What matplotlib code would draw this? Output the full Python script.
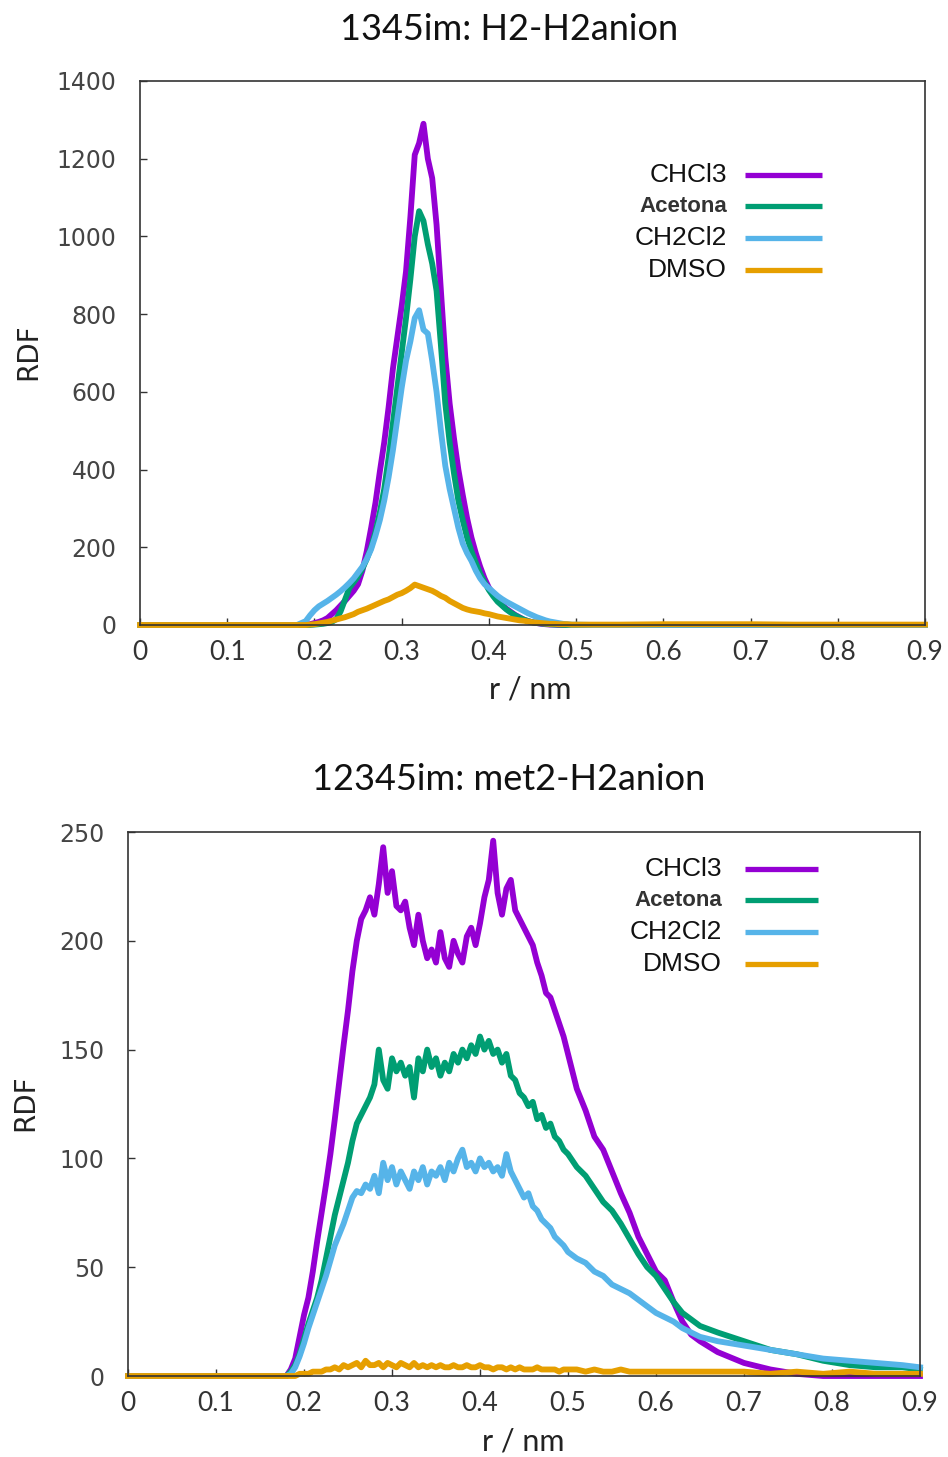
import matplotlib.pyplot as plt
import numpy as np

solvents = ["CHCl3", "Acetona", "CH2Cl2", "DMSO"]
colors = ["#9400D3", "#009E73", "#56B4E9", "#E69F00"]

titles = ["1345im: H2-H2anion", "12345im: met2-H2anion"]
x_ticks = [0, 0.1, 0.2, 0.3, 0.4, 0.5, 0.6, 0.7, 0.8, 0.9]
x_tick_labels = ["0", "0.1", "0.2", "0.3", "0.4", "0.5", "0.6", "0.7", "0.8", "0.9"]
y_ticks_top = [0, 200, 400, 600, 800, 1000, 1200, 1400]
y_ticks_bot = [0, 50, 100, 150, 200, 250]

# ---- top panel: H2-H2anion ----
r_top = np.concatenate([
    [0.0, 0.05, 0.10, 0.15, 0.18],
    np.round(np.arange(0.19, 0.5001, 0.005), 3),
    [0.52, 0.55, 0.60, 0.65, 0.70, 0.75, 0.80, 0.85, 0.90],
])

top_chcl3 = [0, 0, 0, 0, 0,
             1, 2, 5, 8, 12, 18, 28, 38, 50, 62,
             75, 88, 105, 140, 190, 250, 315, 395, 470, 560,
             660, 740, 820, 910, 1050, 1210, 1240, 1290, 1200, 1150,
             1030, 860, 690, 570, 480, 400, 335, 275, 225, 185,
             150, 120, 96, 80, 64, 52, 42, 34, 26, 20,
             14, 10, 7, 5, 3, 2, 1, 1, 0, 0,
             0, 0, 0,
             0, 0, 0, 0, 0, 0, 0, 0, 0]
top_acetona = [0, 0, 0, 0, 0,
               0, 0, 1, 2, 3, 5, 8, 15, 35, 65,
               95, 110, 125, 145, 170, 200, 240, 290, 350, 430,
               520, 610, 700, 790, 890, 1000, 1065, 1040, 980, 930,
               860, 720, 570, 470, 390, 320, 270, 225, 190, 160,
               132, 110, 90, 74, 60, 50, 40, 32, 25, 19,
               14, 10, 7, 5, 4, 3, 2, 1, 1, 0,
               0, 0, 0,
               0, 0, 0, 0, 0, 0, 0, 0, 0]
top_ch2cl2 = [0, 0, 0, 0, 0,
              10, 25, 38, 48, 55, 62, 70, 78, 87, 97,
              108, 120, 135, 150, 170, 195, 230, 270, 320, 380,
              450, 530, 610, 680, 730, 790, 810, 760, 750, 680,
              600, 500, 410, 350, 300, 250, 210, 185, 165, 140,
              120, 105, 95, 85, 75, 67, 60, 54, 48, 42,
              36, 30, 25, 20, 16, 12, 9, 7, 5, 3,
              2, 1, 1,
              0, 0, 0, 0, 0, 0, 0, 0, 0]
top_dmso = [0, 0, 0, 0, 0,
            0, 1, 2, 4, 6, 8, 11, 14, 17, 20,
            24, 28, 34, 38, 42, 47, 52, 57, 62, 66,
            72, 78, 82, 88, 95, 104, 100, 96, 92, 88,
            82, 75, 70, 62, 56, 50, 44, 40, 37, 35,
            33, 30, 28, 25, 22, 20, 18, 16, 14, 12,
            11, 9, 7, 6, 5, 4, 3, 3, 2, 2,
            2, 1, 1,
            1, 1, 2, 2, 2, 1, 1, 1, 1]

# ---- bottom panel: met2-H2anion ----
r_bot = np.concatenate([
    [0.0, 0.05, 0.10, 0.15, 0.175],
    np.round(np.arange(0.18, 0.5001, 0.005), 3),
    np.round(np.arange(0.51, 0.6501, 0.01), 2),
    [0.67, 0.70, 0.73, 0.76, 0.79, 0.82, 0.85, 0.88, 0.90],
])

bot_chcl3 = [0, 0, 0, 0, 0,
             0, 3, 8, 18, 28, 36, 48, 62, 75, 88,
             102, 118, 135, 152, 168, 186, 200, 210, 214, 220,
             212, 226, 243, 222, 232, 216, 214, 218, 206, 198,
             212, 200, 192, 196, 190, 204, 192, 188, 200, 194,
             190, 202, 206, 198, 208, 220, 228, 246, 222, 212,
             224, 228, 214, 210, 206, 202, 198, 190, 184, 176,
             174, 168, 162, 156, 148,
             132, 122, 110, 104, 94, 84, 75, 64, 56, 48, 44, 34, 25, 19, 16,
             11, 6, 3, 1, 0, 0, 0, 0, 0]
bot_acetona = [0, 0, 0, 0, 0,
               0, 2, 5, 10, 17, 24, 30, 36, 44, 54,
               64, 74, 82, 90, 98, 108, 116, 120, 124, 128,
               134, 150, 136, 132, 146, 140, 144, 138, 142, 128,
               146, 140, 150, 142, 146, 138, 144, 140, 148, 144,
               150, 146, 152, 148, 156, 150, 154, 148, 150, 144,
               148, 138, 136, 130, 128, 124, 126, 118, 120, 114,
               116, 110, 108, 104, 102,
               96, 92, 86, 80, 76, 70, 63, 56, 50, 46, 40, 34, 29, 26, 23,
               20, 16, 12, 10, 7, 5, 4, 4, 3]
bot_ch2cl2 = [0, 0, 0, 0, 0,
              0, 1, 4, 9, 15, 22, 28, 34, 40, 46,
              53, 60, 65, 70, 76, 82, 85, 84, 88, 86,
              92, 84, 98, 90, 96, 88, 94, 90, 86, 94,
              90, 96, 88, 94, 92, 96, 90, 98, 94, 100,
              104, 96, 98, 94, 100, 96, 98, 94, 96, 92,
              102, 94, 90, 86, 82, 84, 78, 76, 72, 70,
              68, 64, 62, 60, 57,
              54, 52, 48, 46, 42, 40, 38, 35, 32, 29, 27, 25, 22, 20, 18,
              16, 14, 12, 10, 8, 7, 6, 5, 4]
bot_dmso = [0, 0, 0, 0, 0,
            0, 0, 0, 1, 1, 1, 2, 2, 2, 3,
            3, 4, 3, 5, 4, 5, 6, 4, 7, 5,
            5, 6, 4, 6, 5, 4, 6, 5, 4, 6,
            4, 5, 4, 5, 4, 5, 4, 4, 5, 4,
            4, 5, 4, 4, 5, 4, 4, 3, 4, 4,
            3, 4, 3, 4, 3, 3, 3, 4, 3, 3,
            3, 3, 2, 3, 3,
            3, 2, 3, 2, 2, 3, 2, 2, 2, 2, 2, 2, 2, 2, 2,
            2, 2, 1, 2, 1, 2, 1, 1, 1]

narrow = ["Lato", "DejaVu Sans"]

W, H = 948, 1457
fig = plt.figure(figsize=(W / 100, H / 100), dpi=100)


def px(x, y):
    return x / W, 1 - y / H


panels = [
    dict(rect=(140, 81, 925, 625), r=r_top, series=[top_chcl3, top_acetona, top_ch2cl2, top_dmso],
         yt=y_ticks_top, ymax=1400, title_xy=(509, 30), xl_xy=(530, 690), yl_xy=(28, 352),
         leg_x=(0.748, 0.771, 0.869), leg_y=[0.827, 0.770, 0.711, 0.653]),
    dict(rect=(128, 832, 920, 1376), r=r_bot, series=[bot_chcl3, bot_acetona, bot_ch2cl2, bot_dmso],
         yt=y_ticks_bot, ymax=250, title_xy=(509, 780), xl_xy=(523, 1441), yl_xy=(25, 1103),
         leg_x=(0.750, 0.779, 0.871), leg_y=[0.932, 0.875, 0.816, 0.757]),
]

for i, p in enumerate(panels):
    x0, y0, x1, y1 = p["rect"]
    ax = fig.add_axes([x0 / W, 1 - y1 / H, (x1 - x0) / W, (y1 - y0) / H])
    for vals, c in zip(p["series"], colors):
        ax.plot(p["r"], vals, color=c, lw=4.2, clip_on=False)
    ax.set_xlim(0, 0.9)
    ax.set_ylim(0, p["ymax"])
    ax.set_xticks(x_ticks)
    ax.set_xticklabels(x_tick_labels, family=narrow, fontsize=19, color="#333333")
    ax.set_yticks(p["yt"])
    ax.set_yticklabels([str(v) for v in p["yt"]], family="DejaVu Sans", fontsize=17, color="#444444")
    ax.tick_params(direction="in", length=5, width=1, color="#333333")
    ax.tick_params(axis="y", pad=17)
    ax.tick_params(axis="x", pad=11)
    for s in ax.spines.values():
        s.set_color("#333333")
        s.set_linewidth(1.2)

    # legend, text right-aligned with the line sample after it
    tx, lx0, lx1 = p["leg_x"]
    for name, c, ly in zip(solvents, colors, p["leg_y"]):
        bold = name == "Acetona"
        ax.text(tx, ly, name, transform=ax.transAxes, ha="right", va="center",
                family="Liberation Sans", fontsize=16 if bold else 19,
                fontweight="bold" if bold else "normal", color="#333333" if bold else "#111111")
        ax.plot([lx0, lx1], [ly, ly], transform=ax.transAxes, color=c, lw=3.8, solid_capstyle="butt")

    tx_, ty_ = px(*p["title_xy"])
    fig.text(tx_, ty_, titles[i], ha="center", va="center", family=narrow, fontsize=26, color="#111111")
    xx, xy = px(*p["xl_xy"])
    fig.text(xx, xy, "r / nm", ha="center", va="center", family=narrow, fontsize=22, color="#222222")
    yx, yy = px(*p["yl_xy"])
    fig.text(yx, yy, "RDF", ha="center", va="center", rotation=90, family="DejaVu Sans",
             fontsize=20, color="#222222")

fig.savefig("out.png", dpi=100)
